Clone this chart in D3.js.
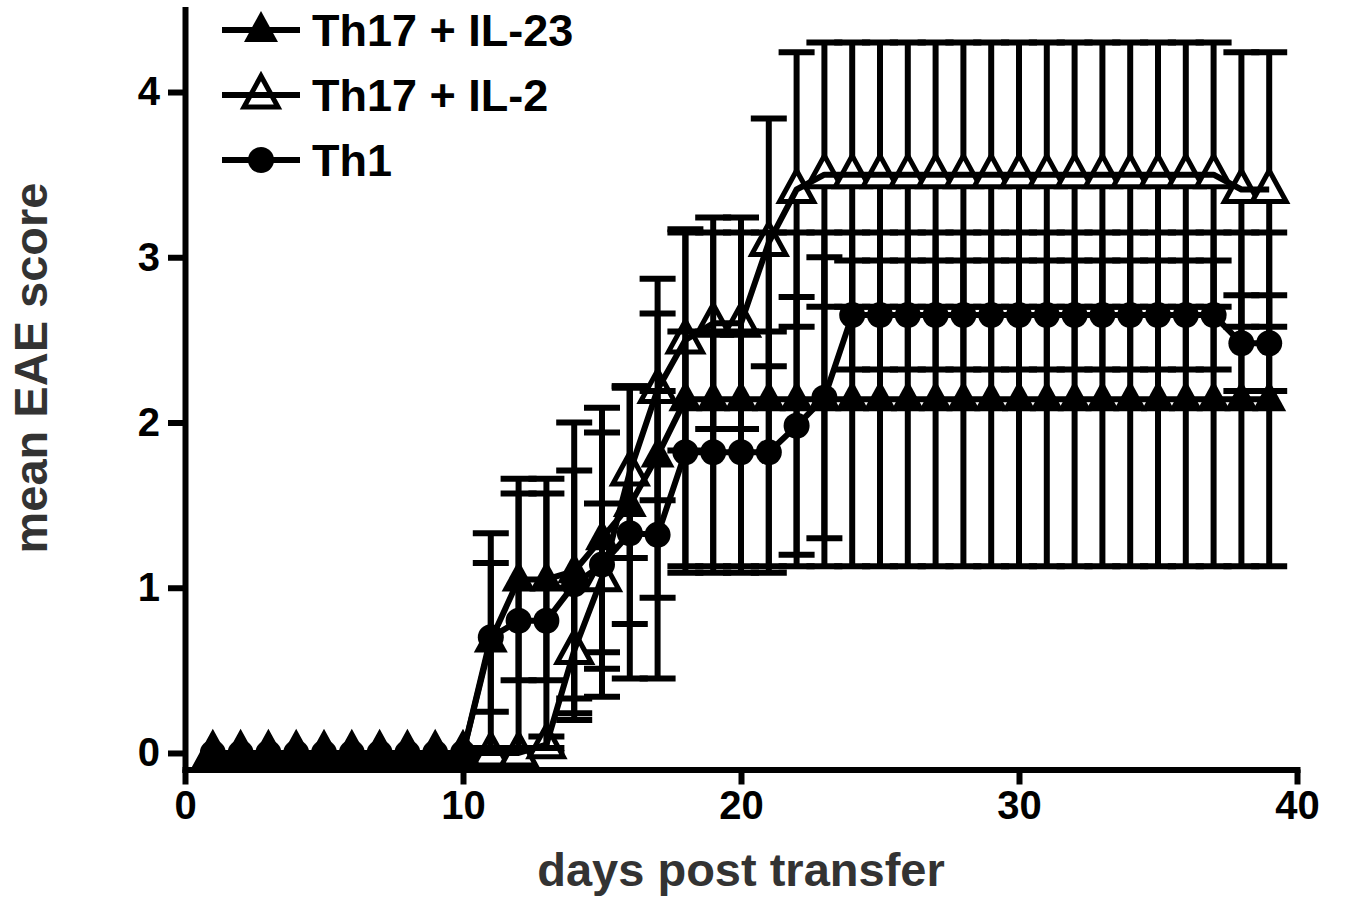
<!DOCTYPE html>
<html>
<head>
	<title>mean EAE score</title>
	<script src="https://d3js.org/d3.v7.min.js"></script>
	<style>
		body { margin: 0; background: #fff; }
		text { font-family: "Liberation Sans", Arial, Helvetica, sans-serif; font-weight: bold; }
	</style>
</head>
<body>
	<div id="chart"></div>

	<script type="text/javascript">
		// days post transfer
		var days = [1,2,3,4,5,6,7,8,9,10,11,12,13,14,15,16,17,18,19,20,
			21,22,23,24,25,26,27,28,29,30,31,32,33,34,35,36,37,38,39];

		// Th17 + IL-23 (filled triangle)
		var il23Mean = [0,0,0,0,0,0,0,0,0,0,0.68,1.05,1.05,1.1,1.3,1.5,1.8,2.14,2.14,2.14,
			2.14,2.14,2.14,2.14,2.14,2.14,2.14,2.14,2.14,2.14,2.14,2.14,2.14,2.14,2.14,2.14,2.14,2.14,2.14];
		var il23Sem = [0,0,0,0,0,0,0,0,0,0,0.65,0.61,0.61,0.9,0.79,0.72,0.86,1.01,1.01,1.01,
			1.01,1.01,1.01,1.01,1.01,1.01,1.01,1.01,1.01,1.01,1.01,1.01,1.01,1.01,1.01,1.01,1.01,1.01,1.01];

		// Th17 + IL-2 (open triangle)
		var il2Mean = [0,0,0,0,0,0,0,0,0,0,0,0,0.05,0.62,1.06,1.7,2.2,2.5,2.6,2.6,
			3.09,3.41,3.5,3.5,3.5,3.5,3.5,3.5,3.5,3.5,3.5,3.5,3.5,3.5,3.5,3.5,3.5,3.41,3.41];
		var il2Sem = [0,0,0,0,0,0,0,0,0,0,0,0,0.05,0.38,0.45,0.52,0.67,0.67,0.64,0.64,
			0.75,0.83,0.8,0.8,0.8,0.8,0.8,0.8,0.8,0.8,0.8,0.8,0.8,0.8,0.8,0.8,0.8,0.83,0.83];

		// Th1 (filled circle)
		var th1Mean = [0,0,0,0,0,0,0,0,0,0,0.7,0.8,0.8,1.02,1.14,1.33,1.32,1.82,1.82,1.82,
			1.82,1.98,2.15,2.65,2.65,2.65,2.65,2.65,2.65,2.65,2.65,2.65,2.65,2.65,2.65,2.65,2.65,2.48,2.48];
		var th1Sem = [0,0,0,0,0,0,0,0,0,0,0.45,0.77,0.77,0.69,0.8,0.88,0.87,0.73,0.73,0.73,
			0.73,0.78,0.85,0.33,0.33,0.33,0.33,0.33,0.33,0.33,0.33,0.33,0.33,0.33,0.33,0.33,0.33,0.29,0.29];

		var xTicks = [0,10,20,30,40];
		var yTicks = [0,1,2,3,4];
		var legendLabels = ["Th17 + IL-23", "Th17 + IL-2", "Th1"];

		var width = 1345;
		var height = 899;

		var svg = d3.select("#chart")
			.append("svg")
			.attr("width", width)
			.attr("height", height);

		var x = d3.scaleLinear()
			.domain([0,40])
			.range([185,1297]);

		var y = d3.scaleLinear()
			.domain([-0.1,4.5])
			.range([769.5,9.4]);

		var triPath = "M0,-19L17,12L-17,12Z";

		function makeSeries(mean, sem){
			return days.map(function(d,i){ return {day:d, mean:mean[i], sem:sem[i]}; });
		}

		var series = [
			{name:legendLabels[1], data:makeSeries(il2Mean, il2Sem), marker:"openTri"},
			{name:legendLabels[2], data:makeSeries(th1Mean, th1Sem), marker:"circle"},
			{name:legendLabels[0], data:makeSeries(il23Mean, il23Sem), marker:"filledTri"}
		];

		var line = d3.line()
			.x(function(d){ return x(d.day); })
			.y(function(d){ return y(d.mean); });

		function drawMarker(sel, type){
			if (type == "circle"){
				sel.append("circle").attr("r",13).attr("fill","#000");
			}
			else if (type == "filledTri"){
				sel.append("path").attr("d",triPath).attr("fill","#000");
			}
			else {
				sel.append("path").attr("d",triPath)
					.attr("fill","#fff")
					.attr("stroke","#000")
					.attr("stroke-width",5)
					.attr("stroke-linejoin","miter");
			}
		}

		var plot = svg.append("g");

		series.forEach(function(s){
			var g = plot.append("g");
			var bars = s.data.filter(function(d){ return d.sem > 0; });

			// error bars
			var eb = g.selectAll(".eb").data(bars).enter().append("g");
			eb.append("line")
				.attr("x1",function(d){ return x(d.day); })
				.attr("x2",function(d){ return x(d.day); })
				.attr("y1",function(d){ return y(d.mean - d.sem); })
				.attr("y2",function(d){ return y(d.mean + d.sem); });
			eb.append("line")
				.attr("x1",function(d){ return x(d.day) - 18; })
				.attr("x2",function(d){ return x(d.day) + 18; })
				.attr("y1",function(d){ return y(d.mean + d.sem); })
				.attr("y2",function(d){ return y(d.mean + d.sem); });
			eb.append("line")
				.attr("x1",function(d){ return x(d.day) - 18; })
				.attr("x2",function(d){ return x(d.day) + 18; })
				.attr("y1",function(d){ return y(d.mean - d.sem); })
				.attr("y2",function(d){ return y(d.mean - d.sem); });
			eb.selectAll("line")
				.attr("stroke","#000")
				.attr("stroke-width",6);

			// markers
			g.selectAll(".mk").data(s.data).enter().append("g")
				.attr("transform",function(d){ return "translate(" + x(d.day) + "," + y(d.mean) + ")"; })
				.each(function(){ drawMarker(d3.select(this), s.marker); });

			// connecting line
			g.append("path")
				.datum(s.data)
				.attr("d",line)
				.attr("fill","none")
				.attr("stroke","#000")
				.attr("stroke-width",6)
				.attr("stroke-linejoin","round");
		});

		// axes
		var yAxis = svg.append("g")
			.attr("transform","translate(185,0)")
			.call(d3.axisLeft(y).tickValues(yTicks).tickFormat(d3.format("d"))
				.tickSize(17).tickSizeOuter(0).tickPadding(8));
		var xAxis = svg.append("g")
			.attr("transform","translate(0,769.5)")
			.call(d3.axisBottom(x).tickValues(xTicks).tickFormat(d3.format("d"))
				.tickSize(15).tickSizeOuter(0).tickPadding(6));

		[yAxis, xAxis].forEach(function(a){
			a.select(".domain").attr("stroke","#000").attr("stroke-width",6).attr("stroke-linecap","square");
			a.selectAll(".tick line").attr("stroke","#000").attr("stroke-width",6);
			a.selectAll(".tick text")
				.attr("fill","#000")
				.style("font-size","40px")
				.style("font-family","'Liberation Sans', Arial, sans-serif")
				.style("font-weight","bold");
		});

		// axis titles
		svg.append("text")
			.attr("x",741)
			.attr("y",886)
			.attr("text-anchor","middle")
			.attr("fill","#333")
			.style("font-size","47px")
			.text("days post transfer");

		svg.append("text")
			.attr("transform","translate(47,368) rotate(-90)")
			.attr("text-anchor","middle")
			.attr("fill","#333")
			.style("font-size","47px")
			.text("mean EAE score");

		// legend
		var legendMarkers = ["filledTri","openTri","circle"];
		var legend = svg.append("g");
		legendLabels.forEach(function(lab,i){
			var ly = 30 + i*65;
			var row = legend.append("g").attr("transform","translate(0," + ly + ")");
			row.append("line")
				.attr("x1",222).attr("x2",300)
				.attr("stroke","#000").attr("stroke-width",6);
			var m = row.append("g").attr("transform","translate(261,0)");
			drawMarker(m, legendMarkers[i]);
			if (legendMarkers[i] == "openTri"){
				m.append("line").attr("x1",-18).attr("x2",18).attr("stroke","#000").attr("stroke-width",6);
			}
			row.append("text")
				.attr("x",312)
				.attr("y",16)
				.attr("fill","#000")
				.style("font-size","45px")
				.text(lab);
		});
	</script>
</body>
</html>
